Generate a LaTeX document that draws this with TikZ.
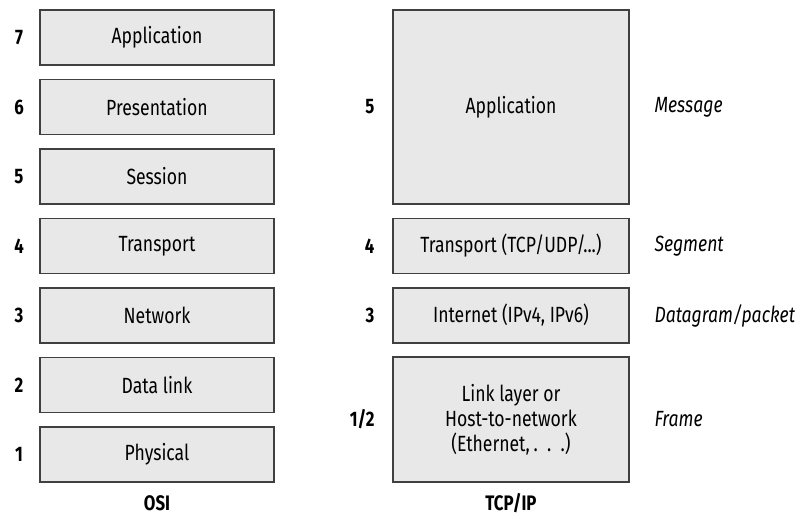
\documentclass[tikz,border=0pt]{standalone}
\usepackage{fontspec}
\setmainfont[FakeStretch=0.80]{Fira Sans}
\begin{document}
\begin{tikzpicture}[x=1pt,y=-1pt,
  layer/.style={draw=black!75,fill=black!9,line width=1.8pt,minimum width=234pt,inner sep=0pt,align=center,font=\fontsize{22}{25}\selectfont},
  num/.style={font=\fontsize{21}{25}\selectfont\bfseries},
  unit/.style={anchor=west,font=\fontsize{22}{25}\selectfont\itshape},
  colcaption/.style={font=\fontsize{21}{25}\selectfont\bfseries}]
\useasboundingbox (0,0) rectangle (800,522);
% OSI
\node[layer,minimum height=55pt] (o7) at (157,37.5) {Application};
\node[layer,minimum height=55pt] (o6) at (157,107) {Presentation};
\node[layer,minimum height=55pt] (o5) at (157,176.5) {Session};
\node[layer,minimum height=55pt] (o4) at (157,246) {Transport};
\node[layer,minimum height=55pt] (o3) at (157,315.5) {Network};
\node[layer,minimum height=55pt] (o2) at (157,385) {Data link};
\node[layer,minimum height=55pt] (o1) at (157,454.5) {Physical};
\foreach \n/\y in {7/37.5,6/107,5/176.5,4/246,3/315.5,2/385,1/454.5}
  \node[num] (on\n) at (19,\y) {\n};
\node[colcaption] (osi) at (157,503) {OSI};
% TCP/IP
\node[layer,minimum width=236pt,minimum height=194pt] (t5) at (511,107) {Application};
\node[layer,minimum width=236pt,minimum height=55pt] (t4) at (511,246) {Transport (TCP/UDP/...)};
\node[layer,minimum width=236pt,minimum height=55pt] (t3) at (511,315.5) {Internet (IPv4, IPv6)};
\node[layer,minimum width=236pt,minimum height=125pt] (t1) at (511,419.5) {Link layer or\\Host-to-network\\(Ethernet,\,.\ \ .\ \ .)};
\node[num,anchor=east] (tn5) at (378,107) {5};
\node[num,anchor=east] (tn4) at (378,246) {4};
\node[num,anchor=east] (tn3) at (378,315.5) {3};
\node[num,anchor=east] (tn1) at (378,419.5) {1/2};
\node[colcaption] (tcp) at (511,503) {TCP/IP};
\node[unit] (u5) at (651,107) {Message};
\node[unit] (u4) at (651,246) {Segment};
\node[unit] (u3) at (651,315.5) {Datagram/packet};
\node[unit] (u1) at (651,419.5) {Frame};
\end{tikzpicture}
\end{document}
